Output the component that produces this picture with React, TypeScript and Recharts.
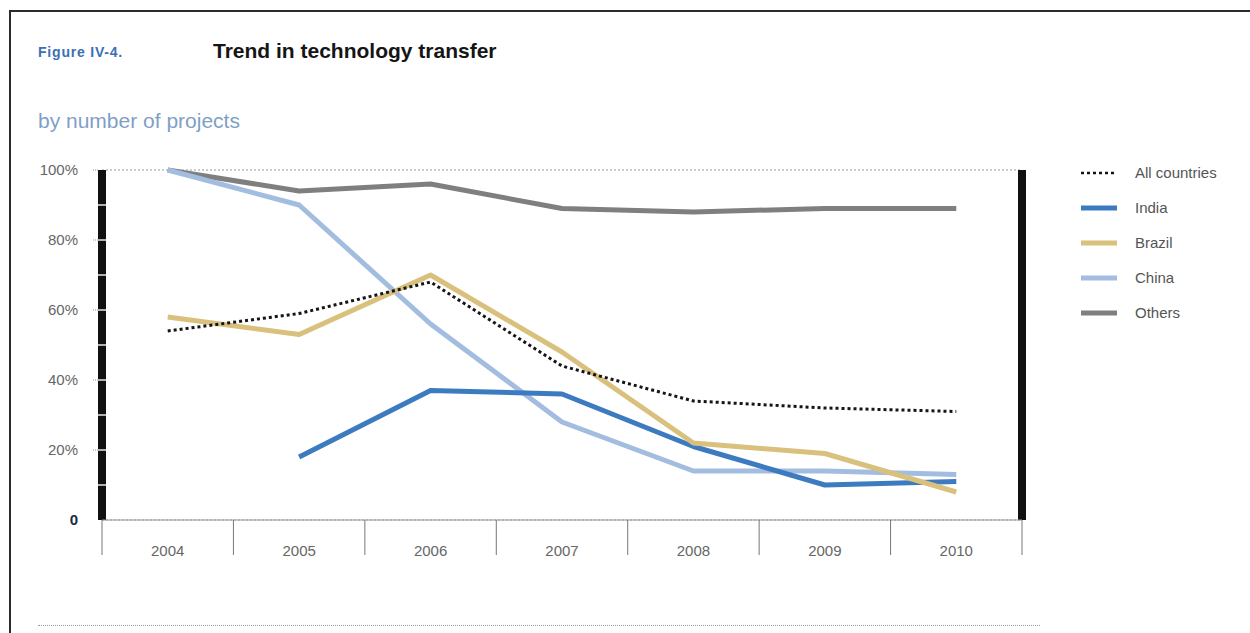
import React from 'react';
import { LineChart, Line, XAxis, YAxis, CartesianGrid, Legend } from 'recharts';

const years = ['2004', '2005', '2006', '2007', '2008', '2009', '2010'];
const allCountries = [54, 59, 68, 44, 34, 32, 31];
const india = [null, 18, 37, 36, 21, 10, 11];
const brazil = [58, 53, 70, 48, 22, 19, 8];
const china = [100, 90, 56, 28, 14, 14, 13];
const others = [100, 94, 96, 89, 88, 89, 89];

const yTicksMinor = [0, 10, 20, 30, 40, 50, 60, 70, 80, 90, 100];
const gridTicks = [20, 40, 60, 80, 100];
const legendOrder = ['All countries', 'India', 'Brazil', 'China', 'Others'];

const series = [
  { key: 'others', name: 'Others', color: '#7f7f7f', width: 5, dash: undefined as string | undefined },
  { key: 'china', name: 'China', color: '#a3bde0', width: 5, dash: undefined as string | undefined },
  { key: 'india', name: 'India', color: '#3c7bbf', width: 5, dash: undefined as string | undefined },
  { key: 'brazil', name: 'Brazil', color: '#d9c07d', width: 5, dash: undefined as string | undefined },
  { key: 'all', name: 'All countries', color: '#151515', width: 3, dash: '3 3' },
];

const data = years.map((year, i) => ({
  year,
  all: allCountries[i],
  india: india[i],
  brazil: brazil[i],
  china: china[i],
  others: others[i],
}));

const FONT = '"Liberation Sans", Arial, Helvetica, sans-serif';
const CHART_W = 1250;
const CHART_H = 633;
const PLOT_LEFT = 102;
const PLOT_RIGHT = 1022;
const PLOT_TOP = 170;
const PLOT_BOTTOM = 520;
const X_AXIS_H = 40;
const Y_AXIS_W = 72;
const R_AXIS_W = 8;
const HALF_BAND = (PLOT_RIGHT - PLOT_LEFT) / years.length / 2;
const L_TICK_SIZE = 9;
const L_TICK_MARGIN = 15;

const LeftTick = (props: any) => {
  const { x, y, payload } = props;
  const v = payload.value as number;
  const axisX = x + L_TICK_SIZE + L_TICK_MARGIN;
  const major = v % 20 === 0;
  return (
    <g>
      {v > 0 && v < 100 && (
        <line x1={axisX - 4} x2={axisX + 4} y1={y} y2={y} stroke="#e4e4e4" strokeWidth={1.5} />
      )}
      {major && v > 0 && (
        <line x1={axisX - L_TICK_SIZE} x2={axisX - 4} y1={y} y2={y} stroke="#999" strokeDasharray="1 1" />
      )}
      {major && (
        <text
          x={x}
          y={y}
          dy="0.36em"
          textAnchor="end"
          fontSize={15}
          fontFamily={FONT}
          fill={v === 0 ? '#1b2b40' : '#666'}
          fontWeight={v === 0 ? 'bold' : 'normal'}
        >
          {v === 0 ? '0' : `${v}%`}
        </text>
      )}
    </g>
  );
};

const RightTick = (props: any) => {
  const { x, y, payload } = props;
  const v = payload.value as number;
  const major = v % 20 === 0;
  return (
    <g>
      {v > 0 && v < 100 && (
        <line x1={x - 4} x2={x + 4} y1={y} y2={y} stroke="#e4e4e4" strokeWidth={1.5} />
      )}
      {major && v > 0 && (
        <line x1={x + 4} x2={x + 8} y1={y} y2={y} stroke="#999" strokeDasharray="1 1" />
      )}
    </g>
  );
};

const XTick = (props: any) => {
  const { x, y, payload, index } = props;
  const last = index === years.length - 1;
  return (
    <g>
      <line x1={x - HALF_BAND} x2={x - HALF_BAND} y1={y} y2={y + 35} stroke="#777" strokeWidth={1} />
      {last && <line x1={x + HALF_BAND} x2={x + HALF_BAND} y1={y} y2={y + 35} stroke="#777" strokeWidth={1} />}
      <text x={x} y={y + 36} textAnchor="middle" fontSize={15} fontFamily={FONT} fill="#666">
        {payload.value}
      </text>
    </g>
  );
};

const renderLegend = (props: any) => {
  const payload = [...(props.payload || [])].sort(
    (a: any, b: any) => legendOrder.indexOf(a.value) - legendOrder.indexOf(b.value)
  );
  return (
    <div style={{ fontFamily: FONT }}>
      {payload.map((p: any) => {
        const s = series.find((q) => q.name === p.value)!;
        return (
          <div key={p.value} style={{ display: 'flex', alignItems: 'center', height: 35 }}>
            <svg width={36} height={6} style={{ display: 'block' }}>
              <line
                x1={0}
                x2={36}
                y1={3}
                y2={3}
                stroke={s.color}
                strokeWidth={s.dash ? 2.5 : 5}
                strokeDasharray={s.dash}
              />
            </svg>
            <span style={{ marginLeft: 18, fontSize: 15, color: '#555', whiteSpace: 'nowrap' }}>{p.value}</span>
          </div>
        );
      })}
    </div>
  );
};

export default function App() {
  return (
    <div
      style={{
        position: 'absolute',
        left: 0,
        top: 0,
        width: CHART_W,
        height: CHART_H,
        background: '#fff',
        overflow: 'hidden',
        fontFamily: FONT,
      }}
    >
      <div
        style={{
          position: 'absolute',
          left: 9,
          top: 10,
          width: 1260,
          height: 640,
          borderTop: '2px solid #2b2b2b',
          borderLeft: '2px solid #2b2b2b',
        }}
      />
      <div
        style={{
          position: 'absolute',
          left: 38,
          top: 45,
          fontSize: 14,
          lineHeight: '14px',
          fontWeight: 'bold',
          color: '#3b70b4',
          letterSpacing: 0.8,
          whiteSpace: 'nowrap',
        }}
      >
        Figure IV-4.
      </div>
      <div
        style={{
          position: 'absolute',
          left: 213,
          top: 40,
          fontSize: 21,
          lineHeight: '21px',
          fontWeight: 'bold',
          color: '#151515',
          whiteSpace: 'nowrap',
        }}
      >
        Trend in technology transfer
      </div>
      <div
        style={{
          position: 'absolute',
          left: 38,
          top: 110,
          fontSize: 21,
          lineHeight: '21px',
          color: '#7f9fc6',
          whiteSpace: 'nowrap',
        }}
      >
        by number of projects
      </div>
      <div style={{ position: 'absolute', left: 0, top: 0 }}>
        <LineChart
          width={CHART_W}
          height={CHART_H}
          data={data}
          margin={{
            top: PLOT_TOP,
            right: CHART_W - PLOT_RIGHT - R_AXIS_W,
            bottom: CHART_H - PLOT_BOTTOM - X_AXIS_H,
            left: PLOT_LEFT - Y_AXIS_W,
          }}
        >
          <YAxis
            yAxisId="L"
            orientation="left"
            width={Y_AXIS_W}
            domain={[0, 100]}
            type="number"
            ticks={yTicksMinor}
            interval={0}
            tickSize={L_TICK_SIZE}
            tickMargin={L_TICK_MARGIN}
            tickLine={false}
            axisLine={{ stroke: '#111', strokeWidth: 8 }}
            tick={<LeftTick />}
          />
          <YAxis
            yAxisId="R"
            orientation="right"
            width={R_AXIS_W}
            domain={[0, 100]}
            type="number"
            ticks={yTicksMinor}
            interval={0}
            tickSize={0}
            tickMargin={0}
            tickLine={false}
            axisLine={{ stroke: '#111', strokeWidth: 8 }}
            tick={<RightTick />}
          />
          <YAxis yAxisId="G" hide width={0} domain={[0, 100]} ticks={gridTicks} type="number" />
          <CartesianGrid yAxisId="G" vertical={false} stroke="#999" strokeDasharray="2 2" />
          <XAxis
            dataKey="year"
            height={X_AXIS_H}
            padding={{ left: HALF_BAND, right: HALF_BAND }}
            axisLine={{ stroke: '#999', strokeWidth: 1 }}
            tickLine={false}
            tickSize={0}
            tickMargin={0}
            interval={0}
            tick={<XTick />}
          />
          {series.map((s) => (
            <Line
              key={s.key}
              yAxisId="L"
              type="linear"
              dataKey={s.key}
              name={s.name}
              stroke={s.color}
              strokeWidth={s.width}
              strokeDasharray={s.dash}
              strokeLinejoin="round"
              dot={false}
              activeDot={false}
              isAnimationActive={false}
            />
          ))}
          <Legend
            layout="vertical"
            align="center"
            verticalAlign="middle"
            content={renderLegend}
            wrapperStyle={{ left: 1081, top: 155, width: 170 }}
          />
        </LineChart>
      </div>
      <div
        style={{
          position: 'absolute',
          left: 38,
          top: 625,
          width: 1002,
          height: 0,
          borderTop: '1px dotted #999',
        }}
      />
    </div>
  );
}
